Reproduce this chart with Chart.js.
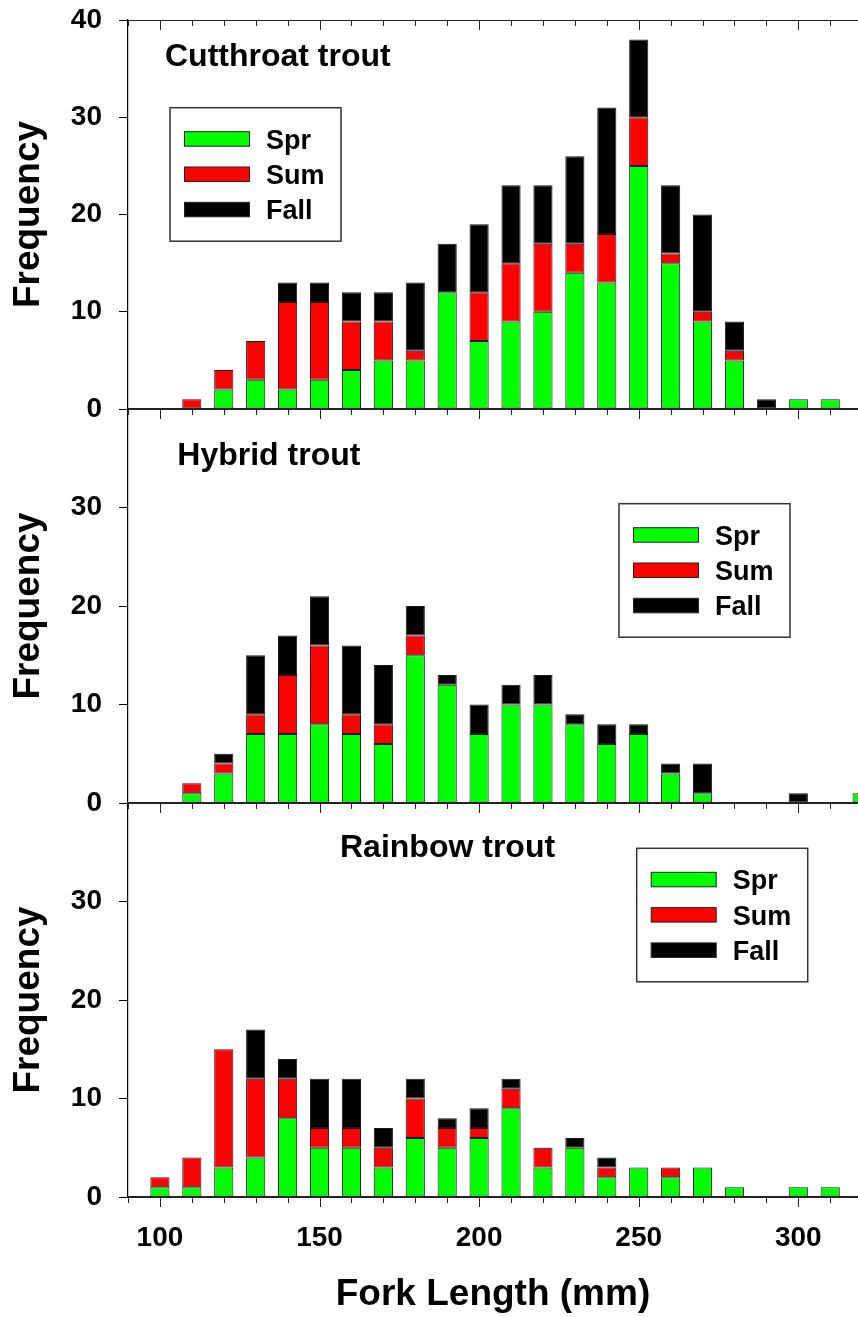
<!DOCTYPE html>
<html><head><meta charset="utf-8">
<script src="https://cdn.jsdelivr.net/npm/chart.js@4.4.1/dist/chart.umd.min.js"></script>
<style>
html,body{margin:0;padding:0;background:#fff;overflow:hidden}
#wrap{position:relative;width:858px;height:1317px;background:#fff}
canvas{position:absolute;left:0}
</style></head><body>
<div id="wrap">
<canvas id="c1" width="858" height="430" style="top:0px"></canvas>
<canvas id="c2" width="858" height="434" style="top:389px"></canvas>
<canvas id="c3" width="858" height="534" style="top:783px"></canvas>
</div>
<script>
// ---- data ----
const forkLengths = [100,110,120,130,140,150,160,170,180,190,200,210,220,230,240,250,260,270,280,290,300,310,320];

const cutthroatSpr  = [0,0,2,3,2,3,4,5,5,12,7,9,10,14,13,25,15,9,5,0,1,1,0];
const cutthroatSum  = [0,1,2,4,9,8,5,4,1,0,5,6,7,3,5,5,1,1,1,0,0,0,0];
const cutthroatFall = [0,0,0,0,2,2,3,3,7,5,7,8,6,9,13,8,7,10,3,1,0,0,0];

const hybridSpr  = [0,1,3,7,7,8,7,6,15,12,7,10,10,8,6,7,3,1,0,0,0,0,1];
const hybridSum  = [0,1,1,2,6,8,2,2,2,0,0,0,0,0,0,0,0,0,0,0,0,0,0];
const hybridFall = [0,0,1,6,4,5,7,6,3,1,3,2,3,1,2,1,1,3,0,0,1,0,0];

const rainbowSpr  = [1,1,3,4,8,5,5,3,6,5,6,9,3,5,2,3,2,3,1,0,1,1,0];
const rainbowSum  = [1,3,12,8,4,2,2,2,4,2,1,2,2,0,1,0,1,0,0,0,0,0,0];
const rainbowFall = [0,0,0,5,2,5,5,2,2,1,2,1,0,1,1,0,0,0,0,0,0,0,0];

const seasonNames = ['Spr','Sum','Fall'];
const seasonColors = ['#00ff00','#ff0000','#000000'];
const panelTitles = ['Cutthroat trout','Hybrid trout','Rainbow trout'];

const yTickValues = [0,10,20,30,40];
const xMinorTicks = [90,100,110,120,130,140,150,160,170,180,190,200,210,220,230,240,250,260,270,280,290,300,310];
const xMajorTicks = [100,150,200,250,300];
const X_MIN = 90, X_MAX = 318.7;

// ---- drawing ----
const FONT = '"Liberation Sans", Arial, Helvetica, sans-serif';

const decor = {
  id: 'decor',
  afterDatasetsDraw(chart, args, o) {
    const ctx = chart.ctx, a = chart.chartArea, xs = chart.scales.x;
    ctx.save();
    // top frame line
    ctx.strokeStyle = '#222';
    ctx.lineWidth = 1;
    ctx.beginPath();
    ctx.moveTo(a.left, a.top + 0.5); ctx.lineTo(a.right, a.top + 0.5);
    ctx.stroke();
    // bottom axis line
    ctx.lineWidth = 2;
    ctx.beginPath();
    ctx.moveTo(a.left, a.bottom); ctx.lineTo(a.right, a.bottom);
    ctx.stroke();
    // x ticks: inward at top, outward at bottom
    ctx.lineWidth = 1;
    xMinorTicks.forEach(v => {
      const px = Math.round(xs.getPixelForValue(v)) + 0.5;
      const len = xMajorTicks.includes(v) ? 10 : 6;
      ctx.beginPath();
      ctx.moveTo(px, a.top); ctx.lineTo(px, a.top + len);
      ctx.moveTo(px, a.bottom); ctx.lineTo(px, a.bottom + len);
      ctx.stroke();
    });
    // panel title
    ctx.fillStyle = '#000';
    ctx.font = 'bold 32px ' + FONT;
    ctx.textAlign = 'left';
    ctx.textBaseline = 'alphabetic';
    ctx.fillText(o.title, o.titleX, o.titleY);
    // legend
    const L = o.legend;
    ctx.lineWidth = 1.5;
    ctx.strokeStyle = '#333';
    ctx.fillStyle = '#fff';
    ctx.fillRect(L.x, L.y, 171, 133.5);
    ctx.strokeRect(L.x, L.y, 171, 133.5);
    chart.data.datasets.forEach((ds, i) => {
      const sy = L.y + 24 + i * 35.3;
      ctx.fillStyle = ds.backgroundColor;
      ctx.fillRect(L.x + 14.5, sy, 65, 14.5);
      ctx.lineWidth = 1;
      ctx.strokeStyle = '#222';
      ctx.strokeRect(L.x + 14.5, sy, 65, 14.5);
      ctx.fillStyle = '#000';
      ctx.font = 'bold 27px ' + FONT;
      ctx.fillText(ds.label, L.x + 96, sy + 7.25 + 9.7);
    });
    ctx.restore();
  }
};

function makeChart(id, series, cfg) {
  return new Chart(document.getElementById(id), {
    type: 'bar',
    data: {
      datasets: series.map((vals, i) => ({
        label: seasonNames[i],
        data: forkLengths.map((x, j) => ({ x: x, y: vals[j] || null })),
        backgroundColor: seasonColors[i],
        borderColor: '#1a1a1a',
        borderWidth: 1,
        borderSkipped: false,
        barPercentage: 0.6,
        categoryPercentage: 1.0
      }))
    },
    options: {
      responsive: false,
      animation: false,
      devicePixelRatio: 1,
      layout: { padding: { top: 20, left: 0, right: 0, bottom: 0 } },
      plugins: {
        legend: { display: false },
        tooltip: { enabled: false },
        decor: cfg.decor
      },
      scales: {
        x: {
          type: 'linear', min: X_MIN, max: X_MAX, offset: false, stacked: true,
          grid: { display: false, drawTicks: false, offset: false },
          border: { display: false },
          afterBuildTicks: s => { s.ticks = xMajorTicks.map(v => ({ value: v })); },
          ticks: {
            display: cfg.showX, autoSkip: false, maxRotation: 0, color: '#000', padding: 24,
            font: { family: FONT, size: 28, weight: 'bold' },
            callback: v => String(v)
          },
          title: {
            display: cfg.showX, text: 'Fork Length (mm)', color: '#000',
            font: { family: FONT, size: 37, weight: 'bold' }, padding: { top: 0, bottom: 0 }
          },
          afterFit: s => { s.height = cfg.xh; s.paddingLeft = 0; s.paddingRight = 0; }
        },
        y: {
          min: 0, max: 40, stacked: true,
          afterBuildTicks: s => { s.ticks = yTickValues.map(v => ({ value: v })); },
          ticks: {
            color: '#000', padding: 17,
            font: { family: FONT, size: 28, weight: 'bold' },
            callback: v => (v === 40 && !cfg.showTop) ? '' : String(v)
          },
          grid: { drawOnChartArea: false, drawTicks: true, tickLength: 9, color: '#000', tickColor: '#000', tickWidth: 1 },
          border: { display: true, color: '#000', width: 1.2 },
          title: {
            display: true, text: 'Frequency', color: '#000',
            font: { family: FONT, size: 37, weight: 'bold' }, padding: { top: 6.5, bottom: 0 }
          },
          afterFit: s => { s.width = 128; s.paddingTop = 0; s.paddingBottom = 0; }
        }
      }
    },
    plugins: [decor]
  });
}

makeChart('c1', [cutthroatSpr, cutthroatSum, cutthroatFall], {
  showX: false, showTop: true, xh: 21,
  decor: { title: panelTitles[0], titleX: 165, titleY: 66, legend: { x: 170, y: 107.7 } }
});
makeChart('c2', [hybridSpr, hybridSum, hybridFall], {
  showX: false, showTop: false, xh: 20,
  decor: { title: panelTitles[1], titleX: 177.3, titleY: 76, legend: { x: 619, y: 114.7 } }
});
makeChart('c3', [rainbowSpr, rainbowSum, rainbowFall], {
  showX: true, showTop: false, xh: 120,
  decor: { title: panelTitles[2], titleX: 340, titleY: 74.3, legend: { x: 636.7, y: 65.3 } }
});
</script>
</body></html>
